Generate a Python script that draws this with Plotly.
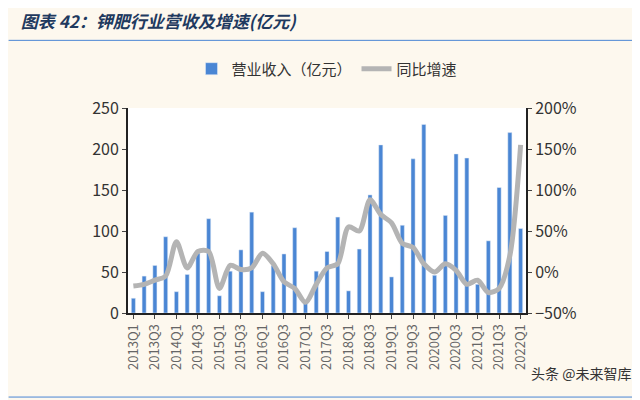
import plotly.graph_objects as go

quarters = [f"{y}Q{q}" for y in range(2013, 2023) for q in range(1, 5)][:37]
revenue = [18, 45, 58, 93, 26, 47, 73, 115, 21, 51, 77, 123, 26, 58, 72, 104,
           16, 51, 75, 117, 27, 78, 144, 205, 44, 107, 188, 230, 46, 119, 194, 189,
           35, 88, 153, 220, 103]
growth = [-17, -15, -10, -5, 37, 5, 25, 25, -20, 8, 3, 5, 23, 10, -12, -20,
          -37, -15, 5, 10, 55, 50, 88, 70, 60, 35, 30, 10, 0, 10, 2, -15,
          -10, -25, -20, 20, 155]
tickvals = quarters[::2]

fig = go.Figure()
fig.add_bar(x=quarters, y=revenue, name="营业收入（亿元）", marker_color="#4a86d4", width=0.38)
fig.add_scatter(x=quarters, y=growth, name="同比增速", yaxis="y2", mode="lines",
                line=dict(color="#b4b4b4", width=5, shape="spline", smoothing=0.8))

font = "Noto Sans CJK SC"
fig.update_layout(
    width=640, height=400, paper_bgcolor="#fdf8ee", plot_bgcolor="white",
    margin=dict(l=120, r=122, t=100, b=95),
    font=dict(family=font, size=16, color="#333"),
    bargap=0.5,
    showlegend=True,
    legend=dict(orientation="h", x=0.5, xanchor="center", y=1.11, yanchor="bottom",
                bgcolor="rgba(0,0,0,0)", font=dict(size=15)),
    xaxis=dict(tickmode="array", tickvals=tickvals, ticktext=tickvals, tickangle=-90,
               showline=True, linecolor="#222", linewidth=2, ticks="outside", ticklen=4,
               tickfont=dict(size=13, color="#666"), automargin=False),
    yaxis=dict(range=[0, 250], dtick=50, showgrid=False, showline=True, linecolor="#222",
               linewidth=2, ticks="outside", ticklen=4, zeroline=False, automargin=False),
    yaxis2=dict(range=[-50, 200], dtick=50, overlaying="y", side="right", ticksuffix="%",
                showgrid=False, showline=True, linecolor="#222", linewidth=2, ticks="outside",
                ticklen=4, zeroline=False, automargin=False),
    title=dict(text="<b><i>图表 42：钾肥行业营收及增速(亿元)</i></b>", x=0.02, y=0.98,
               yanchor="top", font=dict(size=17, color="#1f3a5f"), automargin=False),
    shapes=[dict(type="line", xref="paper", yref="paper", x0=-0.3, x1=1.3, y0=1.33, y1=1.33,
                 line=dict(color="#4a86d4", width=1)),
            dict(type="line", xref="paper", yref="paper", x0=-0.3, x1=1.3, y0=-0.41, y1=-0.41,
                 line=dict(color="#4a86d4", width=1))],
    annotations=[dict(text="头条 @未来智库", xref="paper", yref="paper", x=1.27, y=-0.35,
                      xanchor="right", showarrow=False, font=dict(size=14, color="#333"))],
)
fig.write_html("out.html")
